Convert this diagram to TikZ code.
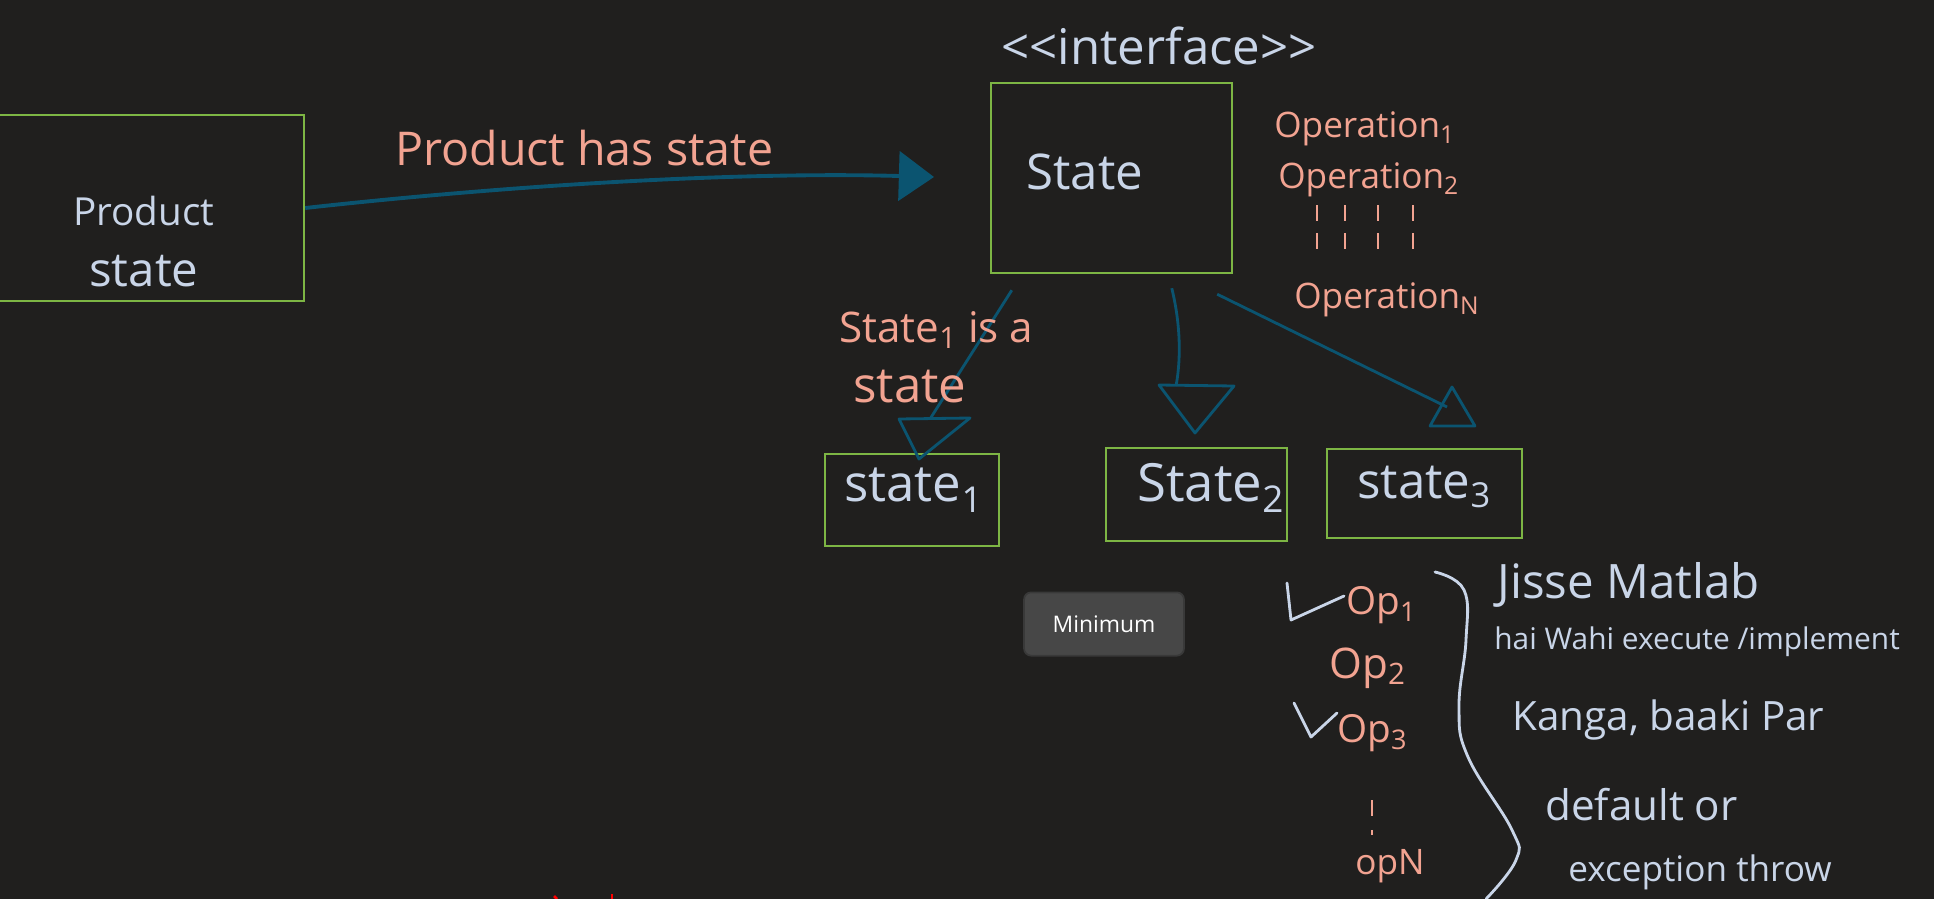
\documentclass[tikz,border=0pt]{standalone}
\usepackage{fontspec}
\setmainfont{Open Sans}
\usepackage{xcolor}
\definecolor{board}{HTML}{201F1E}
\definecolor{boxgreen}{HTML}{7DB544}
\definecolor{linkblue}{HTML}{0B5470}
\definecolor{salmon}{HTML}{F2A391}
\definecolor{chalk}{HTML}{C9D5E8}
\definecolor{btnfill}{HTML}{474747}
\usepackage{tikz}
\usetikzlibrary{arrows.meta}
\usetikzlibrary{calc}
\usetikzlibrary{fit}
\tikzset{
  box/.style={draw=boxgreen, line width=1.4pt, inner sep=0pt},
  gen/.style={draw=linkblue, line width=1.6pt, line join=round},
  has/.style={draw=linkblue, line width=2.2pt, -{Triangle[length=20pt,width=28pt]}},
  pen/.style={text=salmon, inner sep=0pt, anchor=west},
  ink/.style={text=chalk, inner sep=0pt, anchor=west},
  stroke/.style={draw=chalk, line width=1.6pt, line cap=round, line join=round},
  ticks/.style={draw=salmon, line width=1.2pt, dash pattern=on 9pt off 7pt}
}
\newcommand{\fs}[1]{\fontsize{#1}{#1}\selectfont}

\begin{document}
\begin{tikzpicture}[x=0.02cm, y=-0.02cm] % State pattern

  \fill [board] (0,0) rectangle (1934,899);
  \useasboundingbox (0,0) rectangle (1934,899);

  % boxes
  \node [box, fit={(-10,115) (304,301)}] (product) {};
  \node [box, fit={(991,83) (1232,273)}] (state) {};
  \node [box, fit={(825,454) (999,546)}] (state1) {};
  \node [box, fit={(1106,448) (1287,541)}] (state2) {};
  \node [box, fit={(1327,449) (1522,538)}] (state3) {};

  \node [ink, font=\fs{22}] (prodname) at (73,211) {Product};
  \node [ink, font=\fs{27}] (prodstate) at (89,271) {state};
  \node [ink, font=\fs{28}] (iface) at (1001,46) {{<}{<}interface{>}{>}};
  \node [ink, font=\fs{28}] (statename) at (1026,172) {State};
  \node [ink, font=\fs{29}] (s1name) at (844,490) {state\textsubscript{1}};
  \node [ink, font=\fs{30}] (s2name) at (1137,488) {State\textsubscript{2}};
  \node [ink, font=\fs{28}] (s3name) at (1357,487) {state\textsubscript{3}};

  % operations
  \node [pen, font=\fs{20}] (op1) at (1274,129) {Operation\textsubscript{1}};
  \node [pen, font=\fs{20}] (op2) at (1278,180) {Operation\textsubscript{2}};
  \foreach \x in {1317,1345,1378,1413}
    \draw [ticks] (\x,205) -- (\x,257);
  \node [pen, font=\fs{20}] (opn) at (1294,300) {Operation\textsubscript{N}};

  % has a
  \coordinate (hastip) at (934,177);
  \draw [has] (product.east) .. controls (540,182) and (760,172) .. (hastip);
  \node [pen, font=\fs{26.5}] (haslabel) at (395,148) {Product has state};

  % is a
  \coordinate (t1l) at (899,419);
  \coordinate (t1r) at (970,418);
  \coordinate (t1p) at (919,459);
  \coordinate (t1in) at (930,419);
  \coordinate (t2l) at (1159,385);
  \coordinate (t2r) at (1234,386);
  \coordinate (t2p) at (1195,433);
  \coordinate (t2in) at (1176,386);
  \coordinate (t3l) at (1430,426);
  \coordinate (t3r) at (1475,426);
  \coordinate (t3p) at (1452,387);
  \coordinate (t3in) at (1447,407);
  \draw [gen] (t1l) -- (t1r) -- (t1p) -- cycle;
  \draw [gen] (t2l) -- (t2r) -- (t2p) -- cycle;
  \draw [gen] (t3l) -- (t3r) -- (t3p) -- cycle;
  \draw [gen] ($(state.south west)+(22,16)$) -- (t1in);
  \draw [gen] ($(state.south west)+(182,14)$) .. controls (1182,330) and (1180,365) .. (t2in);
  \draw [gen] ($(state.south east)+(-16,20)$) -- (t3in);
  \node [pen, font=\fs{24}] (isa1) at (839,330) {State\textsubscript{1} is a};
  \node [pen, font=\fs{28}] (isa2) at (853,387) {state};

  % button
  \node [draw=btnfill!80!black, fill=btnfill, rounded corners=4pt, line width=1pt,
    minimum width=91pt, minimum height=36pt, text=white, font=\fs{13}] (minbtn) at (1104,624) {Minimum};

  % implemented ops
  \draw [stroke] (1287,583) -- (1291,620) -- (1344,596);
  \node [pen, font=\fs{22}] (impl1) at (1346,605) {Op\textsubscript{1}};
  \node [pen, font=\fs{24}] (impl2) at (1329,668) {Op\textsubscript{2}};
  \draw [stroke] (1294,703) -- (1311,737) -- (1337,713);
  \node [pen, font=\fs{22}] (impl3) at (1337,733) {Op\textsubscript{3}};
  \draw [ticks, dash pattern=on 9pt off 8pt] (1372,800) -- (1372,835);
  \node [pen, font=\fs{20}] (impln) at (1355,866) {opN};
  \draw [stroke] plot [smooth, tension=0.7] coordinates {(1435,572) (1464,590) (1466,640)
    (1459,707) (1468,757) (1512,830) (1516,860) (1486,899)};

  \node [ink, font=\fs{27}] (note1) at (1497,585) {Jisse Matlab};
  \node [ink, font=\fs{17}] (note2) at (1494,642) {hai Wahi execute /implement};
  \node [ink, font=\fs{23}] (note3) at (1512,720) {Kanga, baaki Par};
  \node [ink, font=\fs{24}] (note4) at (1545,805) {default or};
  \node [ink, font=\fs{20}] (note5) at (1568,872) {exception throw};

  % stray marks
  \draw [red, line width=1.5pt] (554,896) -- (557,899);
  \draw [red, line width=1.5pt] (612,894) -- (612,899);

\end{tikzpicture}
\end{document}
